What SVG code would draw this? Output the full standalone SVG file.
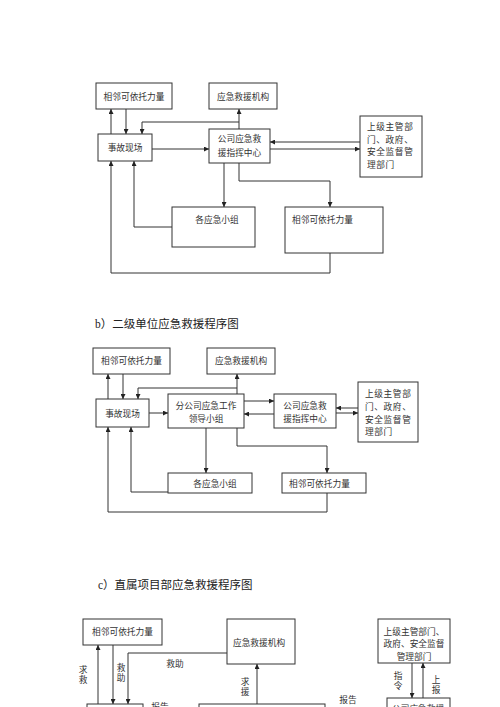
<svg xmlns="http://www.w3.org/2000/svg" width="500" height="707" viewBox="0 0 500 707">
<defs>
<style>
.box{fill:#fff;stroke:#333;stroke-width:1}
.ln{fill:none;stroke:#333;stroke-width:1}
.ar{fill:none;stroke:#333;stroke-width:1;marker-end:url(#ah)}
.t{font-family:"Liberation Serif","Noto Sans CJK SC",serif;font-size:8.7px;fill:#333}
.c{text-anchor:middle}
.sp{letter-spacing:0.6px}
.title{font-family:"Liberation Serif","Noto Sans CJK SC",serif;font-size:11.5px;fill:#222}
.lbl{font-family:"Liberation Serif","Noto Sans CJK SC",serif;font-size:8.7px;fill:#333;text-anchor:middle}
</style>
<marker id="ah" viewBox="0 0 8 8" refX="8" refY="4" markerWidth="5" markerHeight="5" orient="auto" markerUnits="userSpaceOnUse">
<path d="M0,0 L8,4 L0,8 z" fill="#222"/>
</marker>
</defs>
<rect width="500" height="707" fill="#fff"/>

<!-- Section a -->
<g id="a_neighbor"><rect class="box" x="96" y="83" width="76" height="26"/><text class="t c" x="134" y="99.5">相邻可依托力量</text></g>
<g id="a_rescue"><rect class="box" x="209" y="83" width="68" height="26"/><text class="t c" x="243" y="99.5">应急救援机构</text></g>
<g id="a_scene"><rect class="box" x="98" y="134" width="54" height="27"/><text class="t c" x="125" y="151">事故现场</text></g>
<g id="a_center"><rect class="box" x="209" y="129" width="61" height="34"/><text class="t c" x="239.5" y="142">公司应急救</text><text class="t c" x="239.5" y="155.5">援指挥中心</text></g>
<g id="a_gov"><rect class="box" x="360" y="116" width="62" height="61"/><text class="t sp" x="367" y="130">上级主管部</text><text class="t sp" x="367" y="142.5">门、政府、</text><text class="t sp" x="367" y="155">安全监督管</text><text class="t sp" x="367" y="167.5">理部门</text></g>
<g id="a_teams"><rect class="box" x="172" y="207" width="83" height="40"/><text class="t c" x="217" y="223">各应急小组</text></g>
<g id="a_neighbor2"><rect class="box" x="285" y="207" width="98" height="46"/><text class="t" x="292" y="223">相邻可依托力量</text></g>
<g id="a_connectors">
<line class="ar" x1="111" y1="134" x2="111" y2="109"/>
<line class="ar" x1="126" y1="109" x2="126" y2="134"/>
<line class="ar" x1="239" y1="129" x2="239" y2="109"/>
<polyline class="ar" points="239,122 142,122 142,134"/>
<line class="ar" x1="152" y1="149" x2="209" y2="149"/>
<line class="ar" x1="360" y1="142" x2="270" y2="142"/>
<line class="ar" x1="270" y1="149" x2="360" y2="149"/>
<line class="ar" x1="224" y1="163" x2="224" y2="207"/>
<polyline class="ar" points="239,163 239,181 330,181 330,207"/>
<polyline class="ar" points="172,227 134,227 134,161"/>
<polyline class="ar" points="330,253 330,273 111,273 111,161"/>
</g>

<!-- Section b -->
<text class="title" x="95" y="328">b）二级单位应急救援程序图</text>
<g id="b_neighbor"><rect class="box" x="93" y="348" width="77" height="26"/><text class="t c" x="131.5" y="364">相邻可依托力量</text></g>
<g id="b_rescue"><rect class="box" x="207" y="348" width="68" height="26"/><text class="t c" x="241" y="364">应急救援机构</text></g>
<g id="b_scene"><rect class="box" x="96" y="399" width="53" height="28"/><text class="t c" x="122.5" y="416.5">事故现场</text></g>
<g id="b_branch"><rect class="box" x="168" y="394" width="76" height="34"/><text class="t c" x="206" y="408.5">分公司应急工作</text><text class="t c" x="206" y="421.5">领导小组</text></g>
<g id="b_center"><rect class="box" x="274" y="394" width="62" height="34"/><text class="t c" x="305" y="408.5">公司应急救</text><text class="t c" x="305" y="422">援指挥中心</text></g>
<g id="b_gov"><rect class="box" x="358" y="382" width="60" height="60"/><text class="t sp" x="365" y="396.5">上级主管部</text><text class="t sp" x="365" y="409.5">门、政府、</text><text class="t sp" x="365" y="422.5">安全监督管</text><text class="t sp" x="365" y="435">理部门</text></g>
<g id="b_teams"><rect class="box" x="168" y="473" width="84" height="20"/><text class="t c" x="215" y="486.5">各应急小组</text></g>
<g id="b_neighbor2"><rect class="box" x="282" y="473" width="84" height="20"/><text class="t" x="289" y="486.5">相邻可依托力量</text></g>
<g id="b_connectors">
<line class="ar" x1="108" y1="399" x2="108" y2="374"/>
<line class="ar" x1="123" y1="374" x2="123" y2="399"/>
<line class="ar" x1="237" y1="394" x2="237" y2="374"/>
<polyline class="ar" points="237,388 138,388 138,399"/>
<line class="ar" x1="149" y1="413" x2="168" y2="413"/>
<line class="ar" x1="244" y1="401" x2="274" y2="401"/>
<line class="ar" x1="274" y1="414" x2="244" y2="414"/>
<line class="ar" x1="358" y1="408" x2="336" y2="408"/>
<line class="ar" x1="336" y1="413" x2="358" y2="413"/>
<line class="ar" x1="206" y1="428" x2="206" y2="473"/>
<polyline class="ar" points="237,428 237,446 327,446 327,473"/>
<polyline class="ar" points="168,492 131,492 131,427"/>
<polyline class="ar" points="327,493 327,512 108,512 108,427"/>
</g>

<!-- Section c -->
<text class="title" x="98" y="589">c）直属项目部应急救援程序图</text>
<g id="c_neighbor"><rect class="box" x="83" y="619" width="79" height="26"/><text class="t c" x="122.5" y="635">相邻可依托力量</text></g>
<g id="c_rescue"><rect class="box" x="227" y="619" width="68" height="45"/><text class="t c" x="259" y="646">应急救援机构</text></g>
<g id="c_gov"><rect class="box" x="378" y="619" width="72" height="44"/><text class="t c" x="414" y="635">上级主管部门、</text><text class="t c" x="414" y="647">政府、安全监督</text><text class="t c" x="414" y="660">管理部门</text></g>
<g id="c_scene"><rect class="box" x="87" y="704" width="56" height="30"/></g>
<g id="c_project"><rect class="box" x="199" y="704" width="126" height="30"/></g>
<g id="c_center"><rect class="box" x="387" y="698" width="63" height="30"/><text class="t" x="392" y="712">公司应急救援</text></g>
<g id="c_connectors">
<line class="ar" x1="98" y1="704" x2="98" y2="645"/>
<line class="ar" x1="113" y1="645" x2="113" y2="704"/>
<polyline class="ar" points="227,653 128,653 128,704"/>
<line class="ar" x1="257" y1="704" x2="257" y2="664"/>
<line class="ar" x1="412" y1="663" x2="412" y2="698"/>
<line class="ar" x1="423" y1="698" x2="423" y2="663"/>
<text class="lbl" x="83" y="673">求</text><text class="lbl" x="83" y="682.5">救</text>
<text class="lbl" x="121" y="671">救</text><text class="lbl" x="121" y="681">助</text>
<text class="lbl" x="175" y="667">救助</text>
<text class="lbl" x="245" y="685">求</text><text class="lbl" x="245" y="694.5">援</text>
<text class="lbl" x="398" y="679">指</text><text class="lbl" x="398" y="688.5">令</text>
<text class="lbl" x="436" y="683">上</text><text class="lbl" x="436" y="692.5">报</text>
<text class="lbl" x="160" y="710">报告</text>
<text class="lbl" x="348" y="702.5">报告</text>
</g>
</svg>
